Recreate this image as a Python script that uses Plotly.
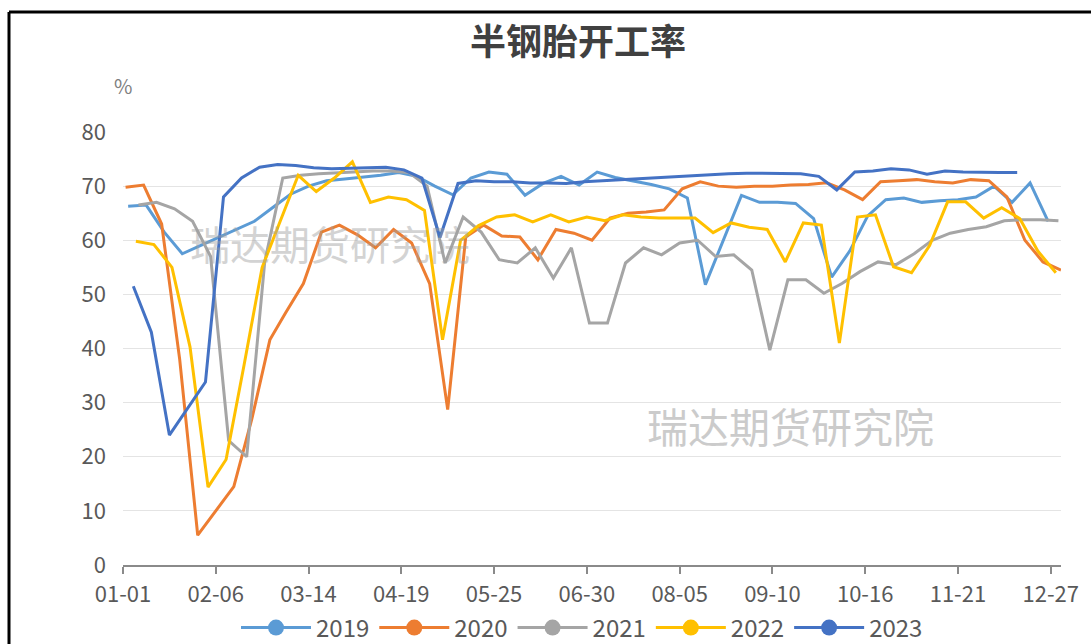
import pandas as pd
import plotly.graph_objects as go

# ---- data (weekly, Thursdays) ----
years = ["2019", "2020", "2021", "2022", "2023"]
first_dates = {"2019": "2019-01-03", "2020": "2020-01-02", "2021": "2021-01-07",
               "2022": "2022-01-06", "2023": "2023-01-05"}
colors = {"2019": "#5B9BD5", "2020": "#ED7D31", "2021": "#A5A5A5",
          "2022": "#FFC000", "2023": "#4472C4"}

v2019 = [66.3, 66.5, 61.5, 57.5, 59, 60.5, 62, 63.5, 66, 68.5, 70, 71, 71.3, 71.6, 72, 72.5,
         71.8, 70, 68.4, 71.5, 72.6, 72.2, 68.3, 70.5, 71.8, 70.2, 72.6, 71.6, 71, 70.3, 69.5,
         67.8, 51.8, 60, 68.3, 67, 67, 66.8, 64, 53.2, 58, 64.5, 67.5, 67.8, 67, 67.3, 67.5,
         68, 70, 67, 70.6, 63.5]
v2020 = [69.8, 70.2, 63, 38, 5.5, 10, 14.5, 27, 41.6, 46.5, 52, 61.5, 62.8, 61, 58.6, 62,
         59.5, 52, 28.7, 60.6, 62.8, 60.8, 60.6, 56.4, 62, 61.3, 60, 64.1, 65, 65.2, 65.6,
         69.5, 70.8, 70, 69.8, 70, 70, 70.2, 70.3, 70.6, 69.3, 67.5, 70.8, 71, 71.2, 70.8,
         70.6, 71.2, 71, 68, 60, 56, 54.5]
v2021 = [66.5, 67, 65.8, 63.5, 57, 23, 20, 56, 71.5, 72, 72.3, 72.5, 72.6, 72.8, 72.8, 72.5,
         70, 55.8, 64.3, 61.5, 56.4, 55.8, 58.6, 53, 58.6, 44.7, 44.7, 55.8, 58.6, 57.3, 59.5,
         60, 57, 57.3, 54.5, 39.7, 52.7, 52.7, 50.2, 52, 54.2, 56, 55.5, 57.5, 60, 61.3, 62,
         62.5, 63.6, 63.8, 63.8, 63.6]
v2022 = [59.8, 59.2, 55, 40.3, 14.4, 19.5, 37, 55, 63.5, 72, 69, 71.5, 74.5, 67, 68, 67.5,
         65.5, 41.6, 60, 62.7, 64.3, 64.7, 63.4, 64.7, 63.4, 64.3, 63.6, 64.7, 64.3, 64.1,
         64.1, 64.1, 61.4, 63.2, 62.4, 62, 56, 63.2, 62.8, 41, 64.3, 64.7, 55.1, 54, 59, 67.1,
         67.1, 64.1, 66, 64, 58, 54]
v2023 = [51.5, 43, 24, 29, 33.8, 68, 71.5, 73.5, 74, 73.8, 73.4, 73.2, 73.3, 73.5, 73.5, 73,
         71.5, 60.5, 70.5, 71, 70.8, 70.8, 70.6, 70.6, 70.5, 70.8, 71, 71.2, 71.4, 71.6, 71.8,
         72, 72.2, 72.3, 72.4, 72.4, 72.4, 72.3, 71.8, 69.3, 72.6, 72.8, 73.2, 73, 72.2, 72.8,
         72.6, 72.5, 72.5, 72.5]
values = {"2019": v2019, "2020": v2020, "2021": v2021, "2022": v2022, "2023": v2023}

tick_days = [0, 36, 72, 108, 144, 180, 216, 252, 288, 324, 360]
ref_year = pd.date_range("2023-01-01", "2023-12-31", freq="D")
tick_labels = [ref_year[d].strftime("%m-%d") for d in tick_days]


def day_index(ts):
    # position on a 365-day MM-DD axis
    return pd.Timestamp("2023-" + ts.strftime("%m-%d")).dayofyear - 1


fig = go.Figure()
for y in years:
    vals = values[y]
    dates = pd.date_range(first_dates[y], periods=len(vals), freq="7D")
    xs = [day_index(d) for d in dates]
    fig.add_trace(go.Scatter(x=xs, y=vals, mode="lines", name=y, legendgroup=y,
                             showlegend=False,
                             line=dict(color=colors[y], width=3),
                             hovertext=[d.strftime("%m-%d") for d in dates]))
for y in years:
    fig.add_trace(go.Scatter(x=[None], y=[None], mode="lines+markers", name=y, legendgroup=y,
                             line=dict(color=colors[y], width=3),
                             marker=dict(color=colors[y], size=16)))

L, R, T, B = 123, 30, 132, 79
W, H = 1091, 644
pw, ph = W - L - R, H - T - B


def px(xp):
    return (xp - L) / pw


def py(yp):
    return (H - B - yp) / ph


font_main = "Noto Sans CJK SC"
fig.update_layout(
    width=W, height=H, autosize=False,
    margin=dict(l=L, r=R, t=T, b=B, pad=0, autoexpand=False),
    paper_bgcolor="white", plot_bgcolor="white",
    font=dict(family=font_main, color="#595959"),
    title=dict(text="<b>半钢胎开工率</b>", x=px(578), xref="paper", xanchor="center",
               y=1 - 42 / H, yref="container", yanchor="middle",
               font=dict(size=36, color="#404040", family=font_main)),
    showlegend=True,
    legend=dict(orientation="h", x=px(582), xanchor="center", y=py(628), yanchor="middle",
                font=dict(size=24, color="#595959"), itemwidth=70, tracegroupgap=0,
                bgcolor="rgba(0,0,0,0)"),
    xaxis=dict(range=[0, 364], tickmode="array", tickvals=tick_days, ticktext=tick_labels,
               showgrid=False, zeroline=False, showline=True, linecolor="#8a8a8a", linewidth=2,
               ticks="outside", ticklen=7, tickwidth=1.5, tickcolor="#8a8a8a",
               ticklabelstandoff=2,
               tickfont=dict(size=22, color="#595959", family=font_main)),
    yaxis=dict(range=[0, 80], tickmode="array", tickvals=list(range(0, 81, 10)),
               showgrid=True, gridcolor="#e4e4e4", gridwidth=1, zeroline=False,
               showline=False, ticks="", ticklabelstandoff=16,
               tickfont=dict(size=22, color="#595959", family=font_main)),
    annotations=[
        dict(text="%", x=0, y=py(86), xref="paper", yref="paper", showarrow=False,
             xanchor="center", yanchor="middle", font=dict(size=20, color="#7f7f7f")),
        dict(text="瑞达期货研究院", x=px(330), y=py(243), xref="paper", yref="paper",
             showarrow=False, xanchor="center", yanchor="middle", opacity=0.45,
             font=dict(size=40, color="#a0a0a0")),
        dict(text="瑞达期货研究院", x=px(790), y=py(425), xref="paper", yref="paper",
             showarrow=False, xanchor="center", yanchor="middle",
             font=dict(size=41, color="#cbcbcb")),
    ],
    shapes=[
        dict(type="line", xref="paper", yref="paper", x0=px(9), x1=px(W + 5), y0=py(12), y1=py(12),
             line=dict(color="black", width=3)),
        dict(type="line", xref="paper", yref="paper", x0=px(9), x1=px(9), y0=py(12), y1=py(H + 5),
             line=dict(color="black", width=3)),
    ],
)

fig.write_html("out.html")
